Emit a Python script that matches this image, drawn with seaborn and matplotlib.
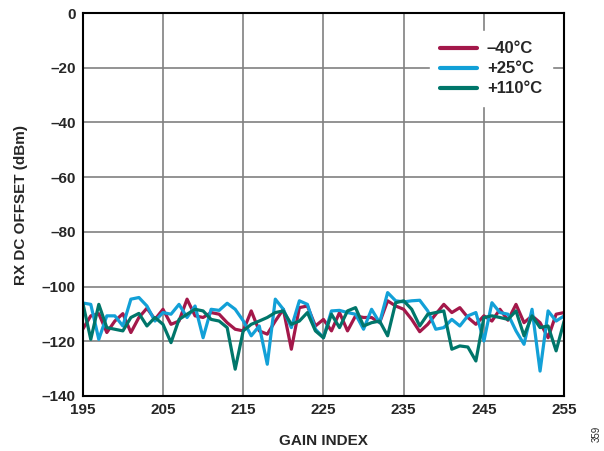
import numpy as np
import pandas as pd
import seaborn as sns
import matplotlib.pyplot as plt

# data
gain_index = list(range(195, 256))

minus_40 = [
    -115.6, -110.7, -109.9, -116.8, -112.6, -109.9, -116.8, -111.3, -107.9, -112.0,
    -108.3, -113.8, -112.6, -104.6, -110.7, -111.3, -109.5, -110.1, -113.2, -115.6,
    -116.2, -108.9, -116.2, -117.4, -112.6, -108.3, -122.9, -107.7, -107.1, -114.4,
    -112.0, -116.2, -109.5, -116.2, -110.7, -111.3, -111.3, -113.2, -105.2, -107.1,
    -108.3, -112.0, -116.5, -113.8, -110.1, -106.5, -109.5, -107.7, -111.3, -113.8,
    -110.7, -112.6, -108.3, -112.3, -106.5, -113.2, -110.7, -113.2, -118.7, -110.1,
    -109.5,
]
plus_25 = [
    -106.0, -106.5, -119.3, -110.7, -110.7, -114.4, -104.6, -104.0, -107.1, -112.6,
    -109.5, -110.1, -106.5, -111.3, -107.1, -118.7, -108.3, -108.7, -106.1, -108.3,
    -112.5, -118.0, -114.4, -128.4, -104.6, -108.3, -115.0, -105.2, -106.5, -115.6,
    -118.7, -108.9, -108.7, -109.5, -110.1, -115.6, -108.3, -113.2, -102.2, -105.2,
    -105.6, -105.2, -105.0, -108.9, -115.6, -115.0, -112.0, -114.4, -110.7, -109.5,
    -119.9, -105.9, -109.5, -110.1, -116.2, -121.1, -108.3, -130.9, -108.9, -112.6,
    -110.7,
]
plus_110 = [
    -105.9, -119.3, -106.5, -115.0, -115.6, -116.2, -111.3, -109.8, -114.4, -111.3,
    -113.8, -120.5, -112.0, -110.1, -108.3, -108.9, -112.0, -112.6, -115.0, -130.2,
    -116.2, -113.8, -112.6, -111.3, -109.5, -108.9, -113.8, -112.6, -109.5, -116.2,
    -118.7, -110.1, -115.0, -108.9, -107.7, -114.4, -113.2, -112.6, -118.0, -105.9,
    -105.2, -108.3, -114.4, -110.1, -109.5, -108.9, -122.9, -121.7, -122.1, -127.2,
    -111.3, -110.7, -111.3, -112.0, -108.9, -118.0, -110.7, -115.0, -114.4, -123.5,
    -112.6,
]

labels = ["\u201340\u00b0C", "+25\u00b0C", "+110\u00b0C"]
colors = ["#A3184A", "#12A0D7", "#00766A"]

df = pd.DataFrame({"gain": gain_index, labels[0]: minus_40,
                   labels[1]: plus_25, labels[2]: plus_110})
df = df.melt(id_vars="gain", var_name="temp", value_name="offset")

sns.set_style("white")
plt.rcParams["font.family"] = ["Liberation Sans", "DejaVu Sans"]
plt.rcParams["font.weight"] = "bold"

fig = plt.figure(figsize=(6.04, 4.51), dpi=100)
ax = fig.add_axes([0.137, 0.122, 0.797, 0.849])

sns.lineplot(data=df, x="gain", y="offset", hue="temp", hue_order=labels,
             palette=colors, linewidth=2.3, ax=ax)

ax.set_xlim(195, 255)
ax.set_ylim(-140, 0)
ax.set_xticks(np.arange(195, 256, 10))
ax.set_yticks(np.arange(-140, 1, 20))
ax.set_yticklabels(["\u2013" + str(-v) if v < 0 else str(v)
                    for v in range(-140, 1, 20)])
ax.grid(True, color="#808080", linewidth=1.2)
for s in ax.spines.values():
    s.set_color("black")
    s.set_linewidth(1.5)
ax.tick_params(axis="both", labelsize=11, length=0, pad=5)
for t in ax.get_xticklabels() + ax.get_yticklabels():
    t.set_fontweight("bold")

ax.set_xlabel("GAIN INDEX", fontsize=11, fontweight="bold", labelpad=12)
ax.set_ylabel("RX DC OFFSET (dBm)", fontsize=11, fontweight="bold", labelpad=10)

leg = ax.legend(loc="upper right", bbox_to_anchor=(0.985, 0.965), fontsize=12,
                frameon=True, handlelength=2.2, handletextpad=0.6,
                labelspacing=0.3, borderpad=0.6, borderaxespad=0.3)
leg.get_frame().set_edgecolor("white")
leg.get_frame().set_facecolor("white")
leg.get_frame().set_alpha(1)
leg.get_frame().set_boxstyle("square", pad=0)
for t in leg.get_texts():
    t.set_fontweight("bold")
for l in leg.get_lines():
    l.set_linewidth(3)

fig.text(0.988, 0.02, "359", rotation=90, fontsize=7, fontweight="normal",
         ha="center", va="bottom")

fig.savefig("out.png", dpi=100)
